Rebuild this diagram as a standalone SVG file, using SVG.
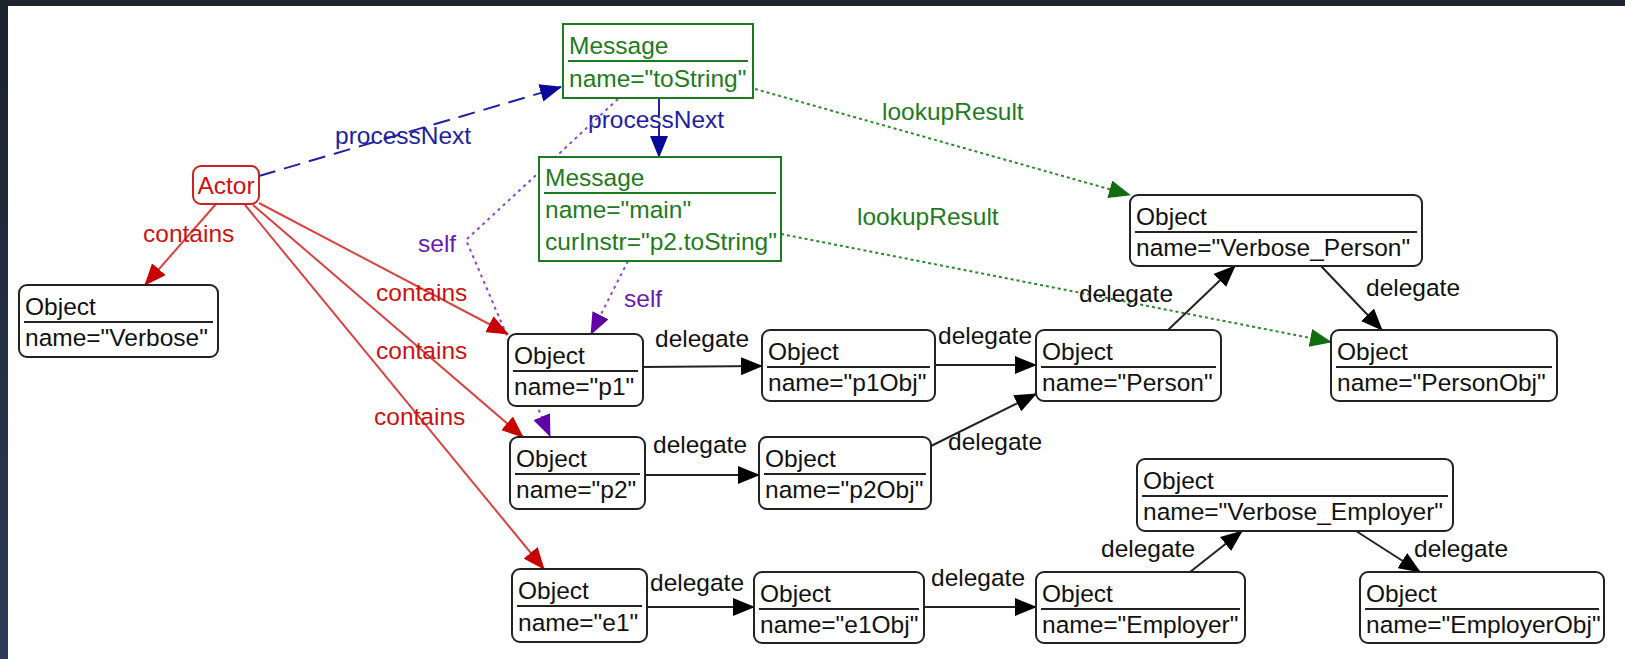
<svg xmlns="http://www.w3.org/2000/svg" width="1625" height="659" viewBox="0 0 1625 659">
  <defs>
    <linearGradient id="edgeShade" x1="0" y1="0" x2="0" y2="1">
      <stop offset="0" stop-color="#1c222c"/>
      <stop offset="1" stop-color="#2d3b57"/>
    </linearGradient>
    <marker id="ahBlack" markerUnits="userSpaceOnUse" markerWidth="22" markerHeight="18" refX="21" refY="9" orient="auto">
      <path d="M0,0 L22,9 L0,18 z" fill="#000"/>
    </marker>
    <marker id="ahRed" markerUnits="userSpaceOnUse" markerWidth="22" markerHeight="18" refX="21" refY="9" orient="auto">
      <path d="M0,0 L22,9 L0,18 z" fill="#c80000"/>
    </marker>
    <marker id="ahBlue" markerUnits="userSpaceOnUse" markerWidth="22" markerHeight="18" refX="21" refY="9" orient="auto">
      <path d="M0,0 L22,9 L0,18 z" fill="#0a0a9a"/>
    </marker>
    <marker id="ahGreen" markerUnits="userSpaceOnUse" markerWidth="22" markerHeight="18" refX="21" refY="9" orient="auto">
      <path d="M0,0 L22,9 L0,18 z" fill="#126c12"/>
    </marker>
    <marker id="ahPurple" markerUnits="userSpaceOnUse" markerWidth="22" markerHeight="18" refX="21" refY="9" orient="auto">
      <path d="M0,0 L22,9 L0,18 z" fill="#6000a8"/>
    </marker>
  </defs>
  <style>
    text { font-family: "Liberation Sans", Arial, sans-serif; font-size: 24.5px; }
    .obj rect { fill: #fff; stroke: #222; stroke-width: 2; }
    .obj line { stroke: #222; stroke-width: 2; }
    .obj text { fill: #111; }
    .msg rect { fill: #fff; stroke: #1e7a1e; stroke-width: 2; }
    .msg line { stroke: #1e7a1e; stroke-width: 2; }
    .msg text { fill: #1e7a1e; }
    .actor rect { fill: #fff; stroke: #cc2222; stroke-width: 2; }
    .actor text { fill: #cc1111; }
    .e { fill: none; stroke-width: 2; }
    .delegate { stroke: #222; marker-end: url(#ahBlack); }
    .contains { stroke: #d84444; marker-end: url(#ahRed); }
    .process { stroke: #2020a4; stroke-dasharray: 17 9; marker-end: url(#ahBlue); }
    .lookup { stroke: #2a8a2a; stroke-dasharray: 3 3; marker-end: url(#ahGreen); }
    .self { stroke: #8a44d8; stroke-dasharray: 3 4; marker-end: url(#ahPurple); }
    .lbl-delegate { fill: #111; }
    .lbl-contains { fill: #cc1111; }
    .lbl-process { fill: #1e1e9e; }
    .lbl-lookup { fill: #1e7a1e; }
    .lbl-self { fill: #6a1ab0; }
  </style>

  <!-- canvas -->
  <rect x="0" y="0" width="1625" height="659" fill="#fff"/>
  <rect x="0" y="0" width="1625" height="6" fill="#1f252f"/>
  <rect x="0" y="0" width="8" height="659" fill="url(#edgeShade)"/>

  <!-- connectors -->
  <g id="connectors">
    <path class="e process" d="M259,176 L561,87"/>
    <text class="lbl-process" x="335" y="144">processNext</text>
    <path class="e process" d="M659,99 L659,157"/>
    <text class="lbl-process" x="588" y="128">processNext</text>

    <path class="e lookup" d="M755,89 L1130,195"/>
    <text class="lbl-lookup" x="882" y="120">lookupResult</text>
    <path class="e lookup" d="M781,234 L1331,342"/>
    <text class="lbl-lookup" x="857" y="225">lookupResult</text>

    <path class="e self" d="M618,99 L466,240 L550,436"/>
    <text class="lbl-self" x="418" y="252">self</text>
    <path class="e self" d="M628,261 L591,334"/>
    <text class="lbl-self" x="624" y="307">self</text>

    <path class="e contains" d="M216,204 L145,285"/>
    <text class="lbl-contains" x="143" y="242">contains</text>
    <path class="e contains" d="M259,203 L508,334"/>
    <text class="lbl-contains" x="376" y="301">contains</text>
    <path class="e contains" d="M253,205 L523,437"/>
    <text class="lbl-contains" x="376" y="359">contains</text>
    <path class="e contains" d="M245,205 L544,569"/>
    <text class="lbl-contains" x="374" y="425">contains</text>

    <path class="e delegate" d="M643,367 L762,366"/>
    <text class="lbl-delegate" x="655" y="347">delegate</text>
    <path class="e delegate" d="M935,365 L1036,365"/>
    <text class="lbl-delegate" x="938" y="344">delegate</text>
    <path class="e delegate" d="M645,475 L759,475"/>
    <text class="lbl-delegate" x="653" y="453">delegate</text>
    <path class="e delegate" d="M931,446 L1036,394"/>
    <text class="lbl-delegate" x="948" y="450">delegate</text>
    <path class="e delegate" d="M1168,330 L1235,266"/>
    <text class="lbl-delegate" x="1079" y="302">delegate</text>
    <path class="e delegate" d="M1321,266 L1382,330"/>
    <text class="lbl-delegate" x="1366" y="296">delegate</text>
    <path class="e delegate" d="M647,607 L754,607"/>
    <text class="lbl-delegate" x="650" y="591">delegate</text>
    <path class="e delegate" d="M924,607 L1036,607"/>
    <text class="lbl-delegate" x="931" y="586">delegate</text>
    <path class="e delegate" d="M1190,572 L1242,531"/>
    <text class="lbl-delegate" x="1101" y="557">delegate</text>
    <path class="e delegate" d="M1356,531 L1420,572"/>
    <text class="lbl-delegate" x="1414" y="557">delegate</text>
  </g>

  <!-- nodes -->
  <g id="actor" class="actor">
    <rect x="193" y="166" width="66" height="38" rx="8"/>
    <text x="226" y="194" text-anchor="middle">Actor</text>
  </g>

  <g id="msg-toString" class="msg">
    <rect x="563" y="24" width="190" height="74"/>
    <text x="569" y="54">Message</text>
    <line x1="568" y1="61" x2="748" y2="61"/>
    <text x="569" y="87">name="toString"</text>
  </g>

  <g id="msg-main" class="msg">
    <rect x="539" y="157" width="242" height="104"/>
    <text x="545" y="186">Message</text>
    <line x1="544" y1="193" x2="776" y2="193"/>
    <text x="545" y="218">name="main"</text>
    <text x="545" y="250">curInstr="p2.toString"</text>
  </g>

  <g id="obj-verbose" class="obj">
    <rect x="19" y="285" width="199" height="72" rx="8"/>
    <text x="25" y="315">Object</text>
    <line x1="24" y1="322" x2="213" y2="322"/>
    <text x="25" y="346">name="Verbose"</text>
  </g>

  <g id="obj-p1" class="obj">
    <rect x="508" y="334" width="135" height="72" rx="8"/>
    <text x="514" y="364">Object</text>
    <line x1="513" y1="371" x2="638" y2="371"/>
    <text x="514" y="395">name="p1"</text>
  </g>

  <g id="obj-p2" class="obj">
    <rect x="510" y="437" width="135" height="72" rx="8"/>
    <text x="516" y="467">Object</text>
    <line x1="515" y1="474" x2="640" y2="474"/>
    <text x="516" y="498">name="p2"</text>
  </g>

  <g id="obj-e1" class="obj">
    <rect x="512" y="569" width="135" height="73" rx="8"/>
    <text x="518" y="599">Object</text>
    <line x1="517" y1="606" x2="642" y2="606"/>
    <text x="518" y="631">name="e1"</text>
  </g>

  <g id="obj-p1Obj" class="obj">
    <rect x="762" y="330" width="173" height="71" rx="8"/>
    <text x="768" y="360">Object</text>
    <line x1="767" y1="367" x2="930" y2="367"/>
    <text x="768" y="391">name="p1Obj"</text>
  </g>

  <g id="obj-p2Obj" class="obj">
    <rect x="759" y="437" width="172" height="72" rx="8"/>
    <text x="765" y="467">Object</text>
    <line x1="764" y1="474" x2="926" y2="474"/>
    <text x="765" y="498">name="p2Obj"</text>
  </g>

  <g id="obj-e1Obj" class="obj">
    <rect x="754" y="572" width="170" height="71" rx="8"/>
    <text x="760" y="602">Object</text>
    <line x1="759" y1="609" x2="919" y2="609"/>
    <text x="760" y="633">name="e1Obj"</text>
  </g>

  <g id="obj-person" class="obj">
    <rect x="1036" y="330" width="185" height="71" rx="8"/>
    <text x="1042" y="360">Object</text>
    <line x1="1041" y1="367" x2="1216" y2="367"/>
    <text x="1042" y="391">name="Person"</text>
  </g>

  <g id="obj-verbose-person" class="obj">
    <rect x="1130" y="195" width="292" height="71" rx="8"/>
    <text x="1136" y="225">Object</text>
    <line x1="1135" y1="232" x2="1417" y2="232"/>
    <text x="1136" y="256">name="Verbose_Person"</text>
  </g>

  <g id="obj-personObj" class="obj">
    <rect x="1331" y="330" width="226" height="71" rx="8"/>
    <text x="1337" y="360">Object</text>
    <line x1="1336" y1="367" x2="1552" y2="367"/>
    <text x="1337" y="391">name="PersonObj"</text>
  </g>

  <g id="obj-employer" class="obj">
    <rect x="1036" y="572" width="209" height="71" rx="8"/>
    <text x="1042" y="602">Object</text>
    <line x1="1041" y1="609" x2="1240" y2="609"/>
    <text x="1042" y="633">name="Employer"</text>
  </g>

  <g id="obj-verbose-employer" class="obj">
    <rect x="1137" y="459" width="316" height="72" rx="8"/>
    <text x="1143" y="489">Object</text>
    <line x1="1142" y1="496" x2="1448" y2="496"/>
    <text x="1143" y="520">name="Verbose_Employer"</text>
  </g>

  <g id="obj-employerObj" class="obj">
    <rect x="1360" y="572" width="244" height="71" rx="8"/>
    <text x="1366" y="602">Object</text>
    <line x1="1365" y1="609" x2="1599" y2="609"/>
    <text x="1366" y="633">name="EmployerObj"</text>
  </g>
</svg>
